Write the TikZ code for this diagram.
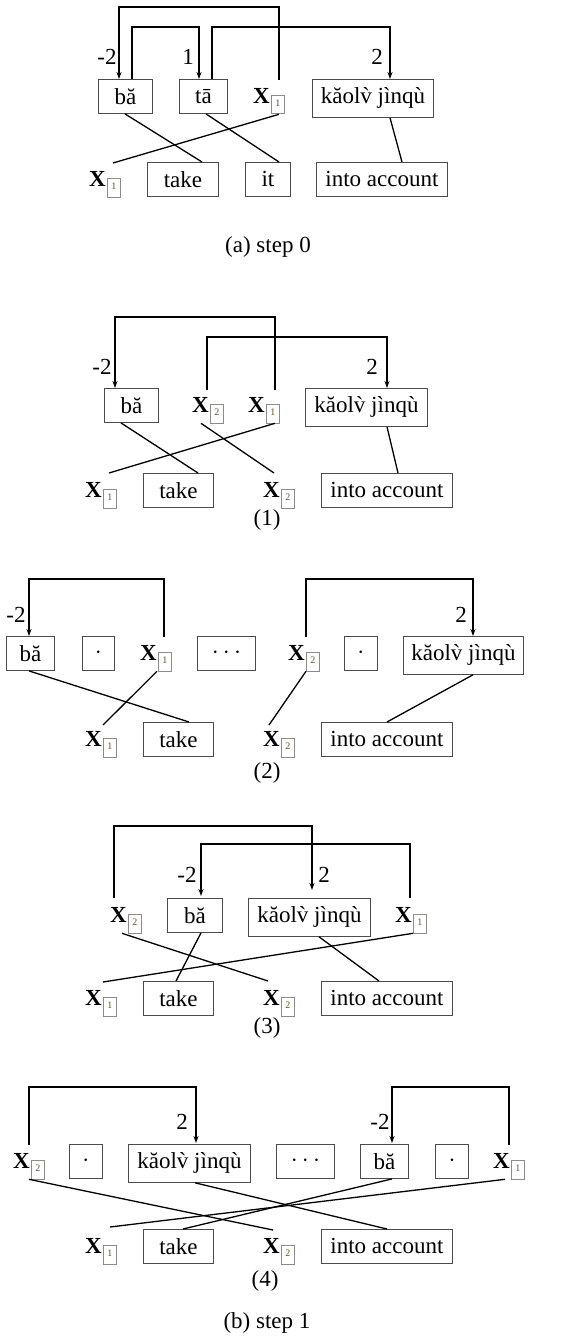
\documentclass[tikz,border=0pt]{standalone}
\usepackage{fontspec}
\setmainfont{Liberation Serif}
\newfontfamily\nomap{Liberation Serif}[Ligatures=TeXOff]
\usetikzlibrary{calc,arrows.meta}
\definecolor{boxgray}{gray}{0.3}
\definecolor{subgray}{gray}{0.55}
\definecolor{subnum}{rgb}{0.45,0.3,0.15}
\newcommand\Xs[1]{\textbf{X}\kern1.5pt\raisebox{-3pt}{\setlength\fboxsep{2pt}\setlength\fboxrule{0.6pt}\fcolorbox{subgray}{white}{\rule[-5pt]{0pt}{14pt}\makebox[8pt]{\fontsize{10}{10}\selectfont\color{subnum}#1}}}}
\newcommand\vgr{\setbox0\hbox{v}\hbox to\wd0{\hss{\nomap\char"0060}\hss}\kern-\wd0 v}
\newcommand\KL{kăol\vgr{} jìnqù}
\begin{document}
\begin{tikzpicture}[x=1pt,y=-1pt,
  font=\fontsize{23}{27}\selectfont,
  box/.style={draw=boxgray,line width=0.9pt,inner xsep=0pt,inner ysep=8.5pt,minimum height=34pt,anchor=north west},
  xn/.style={inner sep=0pt,anchor=base west},
  lbl/.style={inner sep=0pt},
  ln/.style={line width=1.3pt,black},
  arr/.style={ln,-{Stealth[length=7pt,width=5pt]}}]
\fill[white] (0,0) rectangle (563,1340);
\useasboundingbox (0,0) rectangle (563,1340);

% ---------- (a) step 0 ----------
\node[box,minimum width=54] (ba0) at (98,79) {bă};
\node[box,minimum width=48] (ta0) at (179,79) {tā};
\node[xn] (xa1) at (253,103.5) {\Xs1};
\node[box,minimum width=121] (kl0) at (312,79) {\KL};
\node[lbl] (la1) at (107,57) {-2};
\node[lbl] (la2) at (188,57) {1};
\node[lbl] (la3) at (377,57) {2};
\node[xn] (xb1) at (89,187) {\Xs1};
\node[box,minimum width=71] (tk0) at (147,162) {take};
\node[box,minimum width=45] (it0) at (245,162) {it};
\node[box,minimum width=131] (ia0) at (316,162) {into account};
\node[lbl] (capa) at (268,247) {(a) step 0};
\draw[arr] ($(xa1.base west)+(26,-23.5)$) -- ++(0,-73) -| ($(ba0.north west)+(21,0)$);
\draw[arr] ($(ba0.north west)+(34,0)$) -- ++(0,-52) -| ($(ta0.north west)+(20,0)$);
\draw[arr] ($(ta0.north west)+(33,0)$) -- ++(0,-52) -| ($(kl0.north west)+(78,0)$);
\draw[ln] ($(ba0.south west)+(27,0)$) -- ($(tk0.north west)+(55,0)$);
\draw[ln] ($(ta0.south west)+(27,0)$) -- ($(it0.north west)+(34,0)$);
\draw[ln] ($(xa1.south west)+(26,0)$) -- ($(xb1.base west)+(24,-24)$);
\draw[ln] ($(kl0.south west)+(78,0)$) -- ($(ia0.north west)+(86,0)$);

% ---------- (1) ----------
\node[box,minimum width=54] (ba1) at (104,388) {bă};
\node[xn] (x21) at (192,412.5) {\Xs2};
\node[xn] (x11) at (248,412.5) {\Xs1};
\node[box,minimum width=122] (kl1) at (305,388) {\KL};
\node[lbl] (l11) at (102,367) {-2};
\node[lbl] (l12) at (372,367) {2};
\node[xn] (x1b1) at (85,497.5) {\Xs1};
\node[box,minimum width=70] (tk1) at (143,473) {take};
\node[xn] (x2b1) at (263,497.5) {\Xs2};
\node[box,minimum width=131] (ia1) at (321,473) {into account};
\node[lbl] (cap1) at (267,520) {(1)};
\draw[arr] ($(x11.base west)+(27,-22.5)$) -- ++(0,-73) -| ($(ba1.north west)+(11,0)$);
\draw[arr] ($(x21.base west)+(15,-22.5)$) -- ++(0,-53) -| ($(kl1.north west)+(82,0)$);
\draw[ln] ($(ba1.south west)+(17,0)$) -- ($(tk1.north west)+(55,0)$);
\draw[ln] ($(x11.south west)+(27,0)$) -- ($(x1b1.base west)+(24,-24.5)$);
\draw[ln] ($(x21.south west)+(9,0)$) -- ($(x2b1.base west)+(11,-24.5)$);
\draw[ln] ($(kl1.south west)+(82,0)$) -- ($(ia1.north west)+(77,0)$);

% ---------- (2) ----------
\node[box,minimum width=48] (ba2) at (6,636) {bă};
\node[box,minimum width=32] (dt2a) at (82,636) {$\cdot$};
\node[xn] (x12) at (140,660.5) {\Xs1};
\node[box,minimum width=58] (dd2) at (197,636) {$\cdots$};
\node[xn] (x22) at (288,660.5) {\Xs2};
\node[box,minimum width=33] (dt2b) at (344,636) {$\cdot$};
\node[box,minimum width=120] (kl2) at (403,636) {\KL};
\node[lbl] (l21) at (16,615) {-2};
\node[lbl] (l22) at (461,615) {2};
\node[xn] (x1b2) at (85,746.5) {\Xs1};
\node[box,minimum width=70] (tk2) at (143,722) {take};
\node[xn] (x2b2) at (263,746.5) {\Xs2};
\node[box,minimum width=131] (ia2) at (321,722) {into account};
\node[lbl] (cap2) at (267,773) {(2)};
\draw[arr] ($(x12.base west)+(24,-23.5)$) -- ++(0,-58) -| ($(ba2.north west)+(23,0)$);
\draw[arr] ($(x22.base west)+(18,-23.5)$) -- ++(0,-58) -| ($(kl2.north west)+(70,0)$);
\draw[ln] ($(ba2.south west)+(23,0)$) -- ($(tk2.north west)+(46,0)$);
\draw[ln] ($(x12.south west)+(17,0)$) -- ($(x1b2.base west)+(18,-21.5)$);
\draw[ln] ($(x22.south west)+(18,0)$) -- ($(x2b2.base west)+(6,-21.5)$);
\draw[ln] ($(kl2.south west)+(70,0)$) -- ($(ia2.north west)+(66,0)$);

% ---------- (3) ----------
\node[xn] (x23) at (110,922.5) {\Xs2};
\node[box,minimum width=55] (ba3) at (167,898) {bă};
\node[box,minimum width=122] (kl3) at (248,898) {\KL};
\node[xn] (x13) at (395,922.5) {\Xs1};
\node[lbl] (l31) at (187,875) {-2};
\node[lbl] (l32) at (324,875) {2};
\node[xn] (x1b3) at (85,1005.5) {\Xs1};
\node[box,minimum width=70] (tk3) at (143,981) {take};
\node[xn] (x2b3) at (263,1005.5) {\Xs2};
\node[box,minimum width=131] (ia3) at (321,981) {into account};
\node[lbl] (cap3) at (267,1028) {(3)};
\draw[arr] ($(x23.base west)+(4,-24.5)$) -- ++(0,-72) -| ($(kl3.north west)+(64,-8)$);
\draw[arr] ($(x13.base west)+(15,-24.5)$) -- ++(0,-54) -| ($(ba3.north west)+(34,-2)$);
\draw[ln] ($(x23.south west)+(12,0)$) -- ($(x2b3.base west)+(5,-24.5)$);
\draw[ln] ($(ba3.south west)+(34,0)$) -- ($(tk3.north west)+(33,0)$);
\draw[ln] ($(kl3.south west)+(71,0)$) -- ($(ia3.north west)+(58,0)$);
\draw[ln] ($(x13.south west)+(18,0)$) -- ($(x1b3.base west)+(18,-23.5)$);

% ---------- (4) ----------
\node[xn] (x24) at (13,1168.5) {\Xs2};
\node[box,minimum width=33] (dt4a) at (69,1144) {$\cdot$};
\node[box,minimum width=122] (kl4) at (128,1144) {\KL};
\node[box,minimum width=58] (dd4) at (276,1144) {$\cdots$};
\node[box,minimum width=48] (ba4) at (360,1144) {bă};
\node[box,minimum width=33] (dt4b) at (435,1144) {$\cdot$};
\node[xn] (x14) at (493,1168.5) {\Xs1};
\node[lbl] (l41) at (182,1122) {2};
\node[lbl] (l42) at (380,1122) {-2};
\node[xn] (x1b4) at (85,1253.5) {\Xs1};
\node[box,minimum width=70] (tk4) at (143,1229) {take};
\node[xn] (x2b4) at (263,1253.5) {\Xs2};
\node[box,minimum width=131] (ia4) at (321,1229) {into account};
\node[lbl] (cap4) at (265,1281) {(4)};
\node[lbl] (capb) at (267,1323) {(b) step 1};
\draw[arr] ($(x24.base west)+(16,-23.5)$) -- ++(0,-58) -| ($(kl4.north west)+(68,-1)$);
\draw[arr] ($(x14.base west)+(16,-23.5)$) -- ++(0,-58) -| ($(ba4.north west)+(32,-1)$);
\draw[ln] ($(x24.south west)+(16,0)$) -- ($(x2b4.base west)+(10,-23.5)$);
\draw[ln] ($(kl4.south west)+(67,0)$) -- ($(ia4.north west)+(66,0)$);
\draw[ln] ($(ba4.south west)+(32,0)$) -- ($(tk4.north west)+(40,0)$);
\draw[ln] ($(x14.south west)+(12,0)$) -- ($(x1b4.base west)+(25,-26.5)$);
\end{tikzpicture}
\end{document}
